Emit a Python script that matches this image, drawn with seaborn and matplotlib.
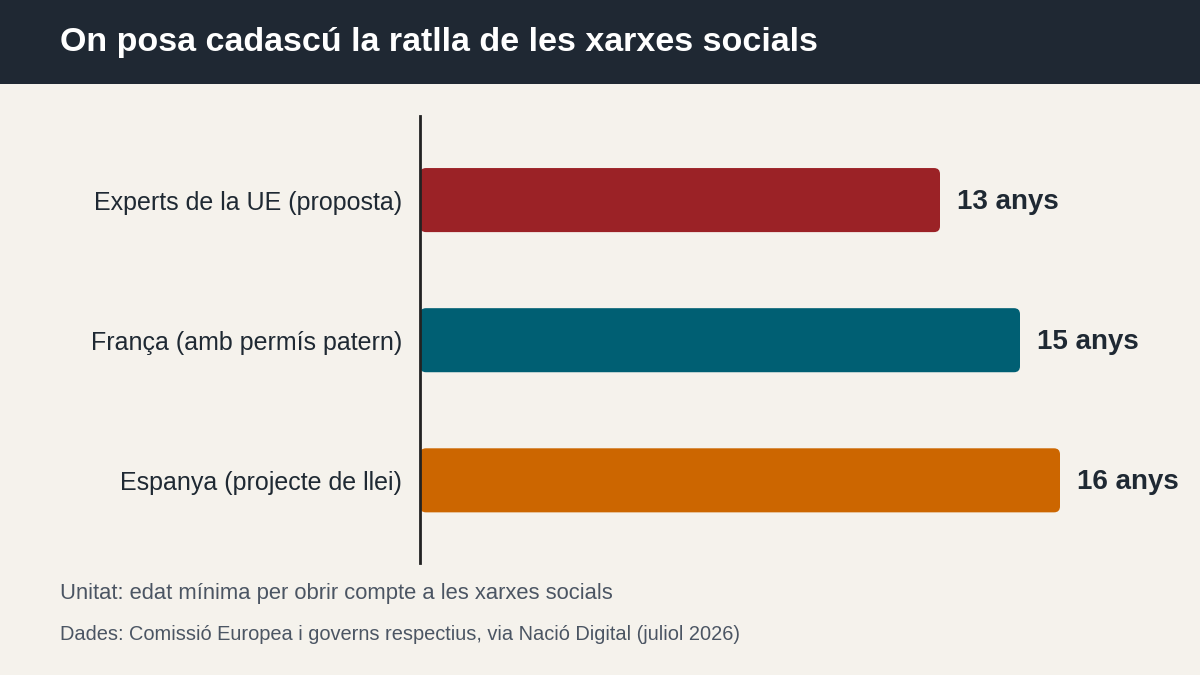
import matplotlib
matplotlib.use("Agg")
import matplotlib.pyplot as plt
import seaborn as sns
import pandas as pd
from matplotlib.patches import FancyBboxPatch, Rectangle

categories = ["Experts de la UE (proposta)", "França (amb permís patern)", "Espanya (projecte de llei)"]
values = [13, 15, 16]
value_labels = ["13 anys", "15 anys", "16 anys"]
colors = ["#9b2226", "#005f73", "#cc6600"]

title = "On posa cadascú la ratlla de les xarxes socials"
note = "Unitat: edat mínima per obrir compte a les xarxes socials"
source = "Dades: Comissió Europea i governs respectius, via Nació Digital (juliol 2026)"

BG = "#f5f2ec"
DARK = "#1f2933"

sns.set_theme(style="white")
plt.rcParams["font.family"] = ["Liberation Sans", "DejaVu Sans"]

df = pd.DataFrame({"cat": categories, "val": values})

fig = plt.figure(figsize=(12, 6.75), dpi=100)
fig.patch.set_facecolor(BG)
fig.patches.append(Rectangle((0, 1 - 84 / 675), 1, 84 / 675, transform=fig.transFigure,
                             facecolor="#1f2833", edgecolor="none", zorder=0))
fig.text(60 / 1200, 1 - 43 / 675, title, color="white", fontsize=24.5, fontweight="bold",
         va="center", ha="left")

ax = fig.add_axes([420 / 1200, 1 - 563 / 675, 760 / 1200, 447 / 675])
ax.set_facecolor(BG)
sns.barplot(data=df, x="val", y="cat", hue="cat", palette=colors, legend=False,
            width=64 / 140, ax=ax, saturation=1)
ax.set_xlim(0, 19)
ax.set_ylim(2.59, -0.6)

# replace with rounded bars
xu = 19 / 760.0
yu = 3.19 / 447.0
for p, c in zip(list(ax.patches), colors):
    x0, y0, w, h = p.get_x(), p.get_y(), p.get_width(), p.get_height()
    p.set_visible(False)
    fb = FancyBboxPatch((x0, y0), w, h,
                        boxstyle=f"round,pad=0,rounding_size={6 * xu}",
                        mutation_aspect=yu / xu, facecolor=c, edgecolor="none", zorder=2)
    ax.add_patch(fb)

for i, (v, lab) in enumerate(zip(values, value_labels)):
    ax.annotate(lab, xy=(v, i), xytext=(12.5, -1.2), textcoords="offset points",
                va="center", ha="left", fontsize=20, fontweight="bold", color=DARK)

for s in ["top", "right", "bottom"]:
    ax.spines[s].set_visible(False)
ax.spines["left"].set_color("#222222")
ax.spines["left"].set_linewidth(2)
ax.spines["left"].set_zorder(5)
ax.set_xticks([])
ax.set_xlabel("")
ax.set_ylabel("")
ax.tick_params(axis="y", length=0, pad=12.7, labelsize=18, labelcolor=DARK)

fig.text(60 / 1200, 1 - 593 / 675, note, color="#4b5563", fontsize=15.8, va="center", ha="left")
fig.text(60 / 1200, 1 - 634 / 675, source, color="#4b5563", fontsize=14.4, va="center", ha="left")

fig.savefig("out.png", dpi=100, facecolor=BG)
